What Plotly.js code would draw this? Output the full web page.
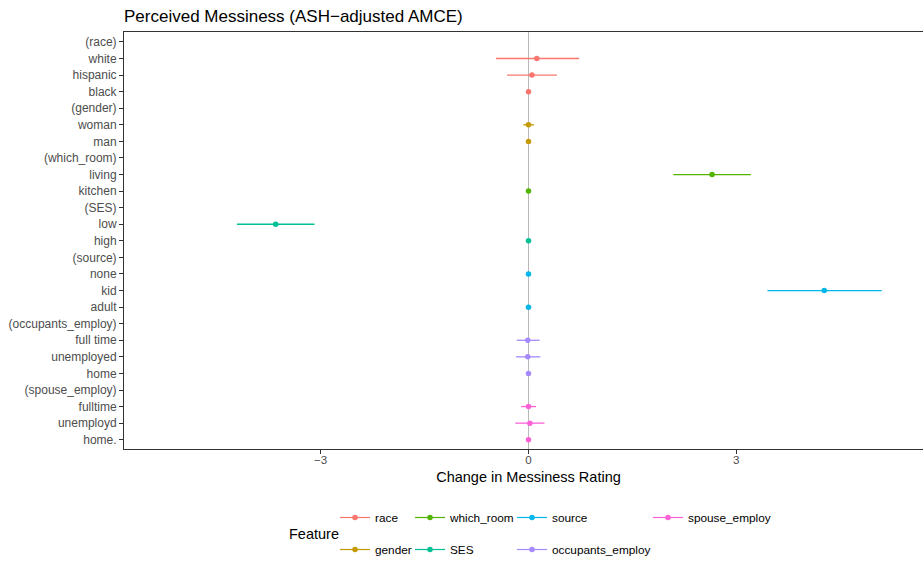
<!DOCTYPE html>
<html>
<head>
<meta charset="utf-8">
<script src="https://cdn.plot.ly/plotly-3.0.1.min.js"></script>
<style>
html, body { margin: 0; padding: 0; overflow: hidden; background: #fff; }
#chart { width: 933px; height: 561px; }
</style>
</head>
<body>
<div id="chart"></div>
<script>
// ---- data ----
const labels = ["(race)","white","hispanic","black","(gender)","woman","man","(which_room)","living","kitchen","(SES)","low","high","(source)","none","kid","adult","(occupants_employ)","full time","unemployed","home","(spouse_employ)","fulltime","unemployd","home."];
const featureOf = [null,"race","race","race",null,"gender","gender",null,"which_room","which_room",null,"SES","SES",null,"source","source","source",null,"occupants_employ","occupants_employ","occupants_employ",null,"spouse_employ","spouse_employ","spouse_employ"];
const estimate = [null,0.12,0.05,0,null,0,0,null,2.65,0,null,-3.65,0,null,0,4.27,0,null,-0.01,-0.01,0,null,0,0.02,0];
const lower    = [null,-0.47,-0.31,0,null,-0.075,0,null,2.09,0,null,-4.21,0,null,0,3.45,0,null,-0.17,-0.18,0,null,-0.105,-0.19,0];
const upper    = [null,0.73,0.41,0,null,0.08,0,null,3.21,0,null,-3.09,0,null,0,5.10,0,null,0.16,0.17,0,null,0.11,0.23,0];
const features = ["race","gender","which_room","SES","source","occupants_employ","spouse_employ"];
const colors   = ["#F8766D","#C49A00","#53B400","#00C094","#00B6EB","#A58AFF","#FB61D7"];
const legendOf = ["legend","legend","legend2","legend2","legend3","legend3","legend4"];
const xTicks = [-3, 0, 3];

// ---- traces ----
const traces = features.map((f, k) => {
  const x = [], y = [], ep = [], em = [];
  labels.forEach((lab, i) => {
    if (featureOf[i] === f) {
      x.push(estimate[i], null);
      y.push(lab, null);
      ep.push(upper[i] - estimate[i], null);
      em.push(estimate[i] - lower[i], null);
    }
  });
  return {
    type: "scatter", mode: "lines+markers", name: f, legendgroup: f,
    legend: legendOf[k], connectgaps: false,
    x: x, y: y,
    line: {color: colors[k], width: 1.2},
    marker: {color: colors[k], size: 5.5},
    error_x: {type: "data", symmetric: false, array: ep, arrayminus: em,
              width: 0, thickness: 1.3, color: colors[k]},
    hoverinfo: "x+y"
  };
});

const W = 933, H = 561;
const L = 124, T = 32, B = 449;          // plot box in pixels
const PW = W - L, PH = B - T;
const font = "Liberation Sans, Arial, Helvetica, sans-serif";
function lg(px, py) {
  return {
    xref: "paper", yref: "paper",
    x: (px - L) / PW, y: (B - py) / PH, xanchor: "left", yanchor: "top",
    orientation: "v", traceorder: "grouped", tracegroupgap: 13,
    bgcolor: "rgba(0,0,0,0)", borderwidth: 0,
    font: {family: font, size: 11.8, color: "#000"}
  };
}

const layout = {
  width: W, height: H,
  margin: {l: L, r: 0, t: T, b: H - B, pad: 0, autoexpand: false},
  paper_bgcolor: "#fff", plot_bgcolor: "#fff",
  font: {family: font},
  title: {text: "Perceived Messiness (ASH\u2212adjusted AMCE)",
          font: {family: font, size: 17, color: "#000"},
          xref: "container", yref: "container",
          x: L / W, xanchor: "left", y: 1 - 16 / H, yanchor: "middle"},
  xaxis: {
    range: [-5.84, 5.84], tickvals: xTicks,
    ticks: "outside", ticklen: 4, tickwidth: 1, tickcolor: "#333",
    ticklabelstandoff: -4,
    tickfont: {family: font, size: 11.6, color: "#4D4D4D"},
    showline: true, linecolor: "#333", linewidth: 1, mirror: true,
    showgrid: false, zeroline: true, zerolinecolor: "#B8B8B8", zerolinewidth: 1.5,
    automargin: true,
    title: {text: "Change in Messiness Rating", standoff: 6,
            font: {family: font, size: 14.5, color: "#000"}}
  },
  yaxis: {
    type: "category", categoryorder: "array", categoryarray: labels,
    range: [24.56, -0.6], dtick: 1,
    ticks: "outside", ticklen: 4, tickwidth: 1, tickcolor: "#333",
    tickfont: {family: font, size: 12, color: "#4D4D4D"},
    showline: true, linecolor: "#333", linewidth: 1, mirror: true,
    showgrid: false, zeroline: false
  },
  legend: lg(335, 503),
  legend2: lg(410, 503),
  legend3: lg(512, 503),
  legend4: lg(648, 503),
  annotations: [{
    text: "Feature", xref: "paper", yref: "paper", showarrow: false,
    x: (287 - L) / PW, xanchor: "left",
    y: (B - 534) / PH, yanchor: "middle",
    font: {family: font, size: 14.5, color: "#000"}
  }],
  showlegend: true
};

Plotly.newPlot("chart", traces, layout, {displayModeBar: false, staticPlot: true});
</script>
</body>
</html>
